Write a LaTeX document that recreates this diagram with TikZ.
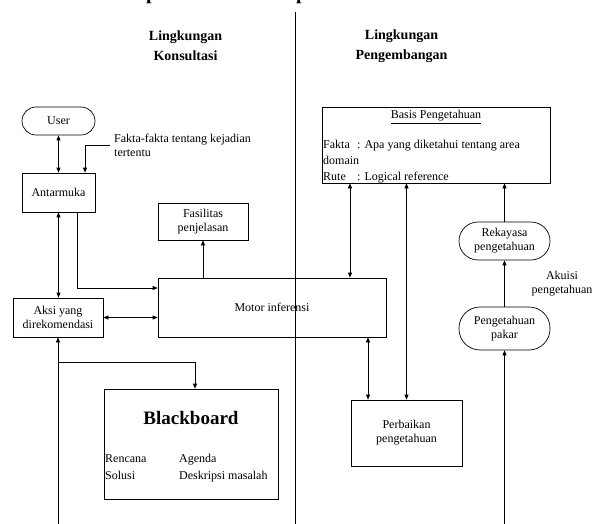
\documentclass[tikz,border=0pt]{standalone}
\usepackage{fontspec}
\setmainfont{Liberation Serif}
\usetikzlibrary{arrows.meta}
\tikzset{
  box/.style={draw, line width=0.7pt, inner sep=1pt, align=center, font=\fontsize{12}{14}\selectfont},
  stadium/.style={box, rounded corners=#1},
  conn/.style={line width=0.7pt},
  arr/.style={conn, -{Triangle[length=5pt,width=4pt]}},
  darr/.style={conn, {Triangle[length=5pt,width=4pt]}-{Triangle[length=5pt,width=4pt]}},
  txt/.style={inner sep=0pt, font=\fontsize{12}{14}\selectfont},
  hdr/.style={inner sep=0pt, align=center, font=\bfseries\fontsize{14}{20}\selectfont}
}
\begin{document}
\begin{tikzpicture}[x=1pt,y=-1pt]
\useasboundingbox (0,0) rectangle (594,524);
\clip (0,0) rectangle (594,524);
% cut-off title fragments
\node[inner sep=0pt, anchor=base west, font=\bfseries\fontsize{20}{24}\selectfont] (t1) at (146,0) {p};
\node[inner sep=0pt, anchor=base west, font=\bfseries\fontsize{20}{24}\selectfont] (t2) at (296,0) {p};
% divider
\coordinate (d1) at (295,12);
\coordinate (d2) at (295,524);
\draw[conn] (d1) -- (d2);
% headers
\node[hdr] (h1) at (185.5,46) {Lingkungan\\Konsultasi};
\node[hdr] (h2) at (401.5,46) {Lingkungan\\Pengembangan};
% nodes left
\node[stadium=14pt, minimum width=73pt, minimum height=28pt] (user) at (58.5,121) {User};
\node[box, minimum width=73pt, minimum height=39pt] (antarmuka) at (58.5,192.5) {Antarmuka};
\node[box, minimum width=90pt, minimum height=39pt] (aksi) at (58,317.5) {Aksi yang\\direkomendasi};
\node[box, minimum width=90pt, minimum height=37pt] (fasilitas) at (203,221.5) {Fasilitas\\penjelasan};
\node[box, minimum width=228pt, minimum height=59pt] (motor) at (272,307.5) {Motor inferensi};
\node[box, minimum width=174pt, minimum height=110pt] (blackboard) at (191,444) {};
\node[inner sep=0pt, font=\bfseries\fontsize{19}{22}\selectfont] (bbt) at (191,418) {Blackboard};
\node[txt, anchor=base west] (bb1) at (105,462) {Rencana};
\node[txt, anchor=base west] (bb2) at (179,462) {Agenda};
\node[txt, anchor=base west] (bb3) at (105,479) {Solusi};
\node[txt, anchor=base west] (bb4) at (179,479) {Deskripsi masalah};
\node[txt, anchor=west, align=left] (fakta) at (114,145) {Fakta-fakta tentang kejadian\\tertentu};
% nodes right
\node[box, minimum width=228pt, minimum height=76pt] (basis) at (436,145) {};
\node[txt] (bt) at (436,117) {\underline{Basis Pengetahuan}};
\node[txt, anchor=base west] (bf1) at (323,149) {Fakta};
\node[txt, anchor=base west] (bf2) at (357,149) {: Apa yang diketahui tentang area};
\node[txt, anchor=base west] (bf3) at (323,164.5) {domain};
\node[txt, anchor=base west] (bf4) at (323,180) {Rute};
\node[txt, anchor=base west] (bf5) at (357,180) {: Logical reference};
\node[stadium=19pt, minimum width=91pt, minimum height=38pt] (rekayasa) at (504.5,241) {Rekayasa\\pengetahuan};
\node[stadium=21pt, minimum width=91pt, minimum height=43pt] (pakar) at (504.5,328.5) {Pengetahuan\\pakar};
\node[txt, align=center] (akuisi) at (562,283.5) {Akuisi\\pengetahuan};
\node[box, minimum width=111pt, minimum height=66pt] (perbaikan) at (406.5,433) {Perbaikan\\pengetahuan};
% helper coordinates
\coordinate (fk) at (110,145);
\coordinate (bl) at (58,524);
\coordinate (br) at (58,362);
\coordinate (brr) at (504.5,524);
\coordinate (x350) at (350,0);
\coordinate (x368) at (368,0);
% connectors
\draw[darr] (user.south) -- (antarmuka.north);
\draw[arr] (fk) -| ([xshift=26.5pt]antarmuka.north);
\draw[darr] (antarmuka.south) -- (aksi.north -| antarmuka.south);
\draw[arr] ([xshift=18.5pt]antarmuka.south) |- ([yshift=19.5pt]motor.west);
\draw[darr] (aksi.east) -- (aksi.east -| motor.west);
\draw[arr] (motor.north -| fasilitas.south) -- (fasilitas.south);
\draw[arr] (bl) -- (aksi.south);
\draw[arr] (br) -| ([xshift=4pt]blackboard.north);
\draw[darr] (basis.south -| x350) -- (motor.north -| x350);
\draw[darr] (perbaikan.north -| x368) -- (motor.south -| x368);
\draw[darr] (perbaikan.north) -- (basis.south -| perbaikan.north);
\draw[arr] (rekayasa.north) -- (basis.south -| rekayasa.north);
\draw[arr] (pakar.north) -- (rekayasa.south);
\draw[arr] (brr) -- (pakar.south);
\end{tikzpicture}
\end{document}
